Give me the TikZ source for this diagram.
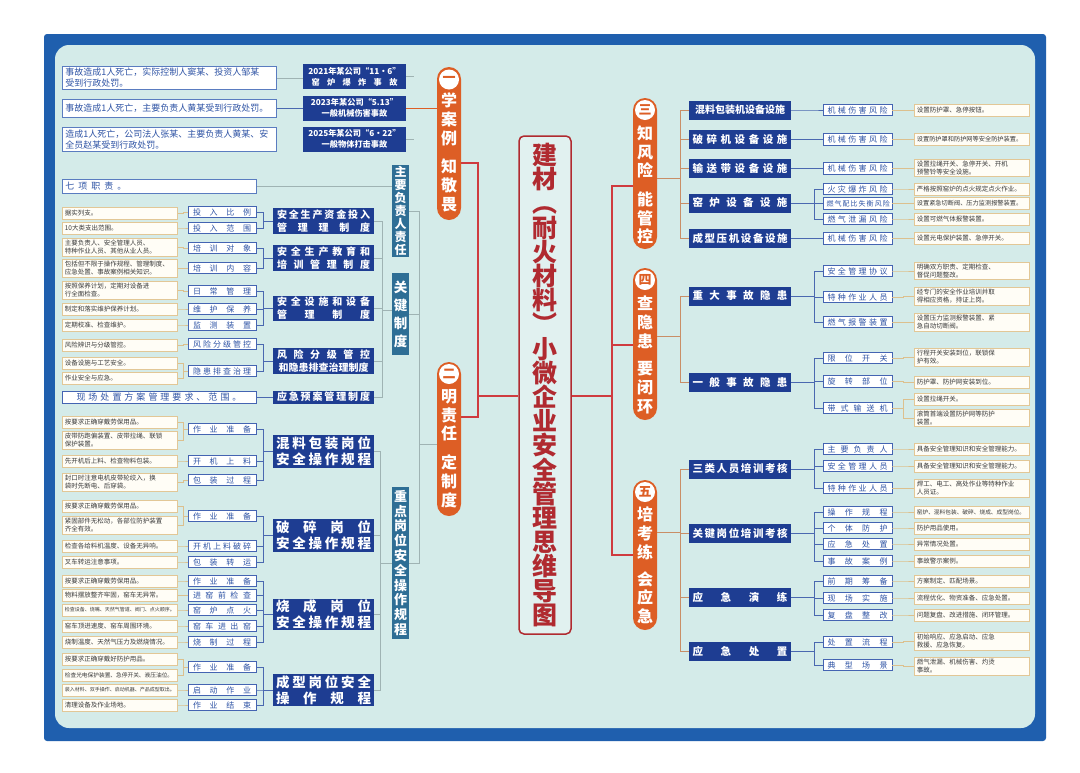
\documentclass[tikz,border=0pt]{standalone}
\usepackage{fontspec}
\setmainfont{Noto Sans CJK SC}
\newcommand{\jz}[2]{\makebox[#1pt][s]{#2}}
\definecolor{frameblue}{HTML}{1F5FAE}
\definecolor{panel}{HTML}{D4EBE9}
\definecolor{navy}{HTML}{1E3D92}
\definecolor{blueB}{HTML}{4464B2}
\definecolor{blueT}{HTML}{2F54A5}
\definecolor{caseB}{HTML}{5A7CC0}
\definecolor{tanB}{HTML}{E2C796}
\definecolor{grayT}{HTML}{3A3A3A}
\definecolor{orangeP}{HTML}{DD5E25}
\definecolor{tealL}{HTML}{2E6E95}
\definecolor{redT}{HTML}{B02A30}
\definecolor{redL}{HTML}{CF3B3F}
\definecolor{glineC}{HTML}{9FB3B3}
\definecolor{blineC}{HTML}{4A68B0}
\definecolor{tlineC}{HTML}{DCC08E}
\definecolor{plineC}{HTML}{C98E66}
\definecolor{cream}{HTML}{FFFDF6}
\begin{document}
\begin{tikzpicture}[x=1pt,y=-1pt,
  case/.style={draw=caseB, fill=white, line width=0.8pt, text=blueT, font=\fontsize{9}{11}\selectfont, align=left, anchor=west, text width=208pt, inner xsep=3pt, inner ysep=2pt},
  ttl/.style={fill=navy, text=white, font=\bfseries\fontsize{8.2}{11}\selectfont, minimum width=103pt, minimum height=25pt, align=center, inner sep=1pt},
  pill/.style={fill=orangeP, rounded corners=12pt, minimum width=24pt, inner sep=0pt},
  numc/.style={circle, fill=white, minimum size=20pt, inner sep=0pt, text=orangeP, font=\bfseries\fontsize{13}{13}\selectfont},
  pillt/.style={text=white, font=\bfseries\fontsize{16}{18.7}\selectfont, align=center, inner sep=0pt},
  lab/.style={fill=tealL, text=white, minimum width=17pt, align=center, inner sep=0pt},
  dk/.style={fill=navy, text=white, font=\bfseries\fontsize{10}{13}\selectfont, minimum width=101pt, align=center, inner sep=0pt},
  dkb/.style={dk, font=\bfseries\fontsize{13.5}{16}\selectfont, minimum height=33pt},
  dkr/.style={dk, font=\bfseries\fontsize{10.5}{13}\selectfont, minimum width=102pt, minimum height=19pt},
  lthree/.style={draw=blueB, fill=white, line width=0.7pt, text=blueT, font=\fontsize{8}{9}\selectfont, minimum width=68pt, minimum height=11.5pt, inner sep=0pt},
  lfour/.style={draw=tanB, fill=cream, line width=0.7pt, text=grayT, font=\fontsize{6.5}{8}\selectfont, align=left, text width=110pt, inner xsep=2.5pt, inner ysep=1.8pt, minimum height=12pt, anchor=west},
  gline/.style={draw=glineC, line width=0.7pt},
  bline/.style={draw=blineC, line width=0.8pt},
  tline/.style={draw=tlineC, line width=0.8pt},
  pline/.style={draw=plineC, line width=0.8pt},
  redline/.style={draw=redL, line width=1.3pt}
]
\useasboundingbox (0,0) rectangle (1080,772);
\fill[white] (0,0) rectangle (1080,772);
\fill[frameblue, rounded corners=3pt] (44,34) rectangle (1046,741);
\fill[panel, rounded corners=14pt] (55,45) rectangle (1035,728);

% ---------- center title ----------
\node[draw=redT, line width=1.5pt, fill=panel!70!white, rounded corners=5pt, minimum width=52pt, minimum height=498pt] (ct) at (545,385) {};
\node[text=redT, font=\bfseries\fontsize{25}{24.2}\selectfont, align=center, inner sep=0pt] (ctt) at (545,385) {建\\材\\︵\\耐\\火\\材\\料\\︶\\小\\微\\企\\业\\安\\全\\管\\理\\思\\维\\导\\图};

% ---------- pills ----------
\node[pill, minimum height=153pt] (p1) at (449,143.5) {};
\node[numc] (p1n) at (449,79.5) {一};
\node[pillt] (p1t) at (449,152.5) {学\\案\\例\\[10pt]知\\敬\\畏};
\node[pill, minimum height=154pt] (p2) at (449,439) {};
\node[numc] (p2n) at (449,374) {二};
\node[pillt] (p2t) at (449,448.5) {明\\责\\任\\[10pt]定\\制\\度};
\node[pill, minimum height=151pt] (p3) at (645,173.5) {};
\node[numc] (p3n) at (645,110) {三};
\node[pillt] (p3t) at (645,185) {知\\风\\险\\[10pt]能\\管\\控};
\node[pill, minimum height=152pt] (p4) at (645,344) {};
\node[numc] (p4n) at (645,280) {四};
\node[pillt] (p4t) at (645,355) {查\\隐\\患\\[9pt]要\\闭\\环};
\node[pill, minimum height=150pt] (p5) at (645,555) {};
\node[numc] (p5n) at (645,492) {五};
\node[pillt] (p5t) at (645,565.5) {培\\考\\练\\[8pt]会\\应\\急};

% red trunk
\coordinate (jl) at (478,396);
\coordinate (jr) at (612,396);
\draw[redline] (p1.east |- 0,163) -| (jl);
\draw[redline] (p2.east |- 0,417) -| (jl);
\draw[redline] (jl) -- (ct.west |- jl);
\draw[redline] (ct.east |- jr) -- (jr);
\draw[redline] (jr) |- (p3.west |- 0,186);
\draw[redline] (jr) |- (p4.west |- 0,345);
\draw[redline] (jr) |- (p5.west |- 0,555);

% ---------- cases ----------
\node[case] (c1) at (62,78) {事故造成1人死亡，实际控制人窦某、投资人邹某\\受到行政处罚。};
\node[case, minimum height=18pt] (c2) at (62,108) {事故造成1人死亡，主要负责人黄某受到行政处罚。};
\node[case] (c3) at (62,139.5) {造成1人死亡，公司法人张某、主要负责人黄某、安\\全员赵某受到行政处罚。};
\node[ttl] (t1) at (354.5,76.5) {2021年某公司“11·6”\\\jz{86}{窑 炉 爆 炸 事 故}};
\node[ttl] (t2) at (354.5,108) {2023年某公司“5.13”\\一般机械伤害事故};
\node[ttl] (t3) at (354.5,139) {2025年某公司“6·22”\\一般物体打击事故};
\draw[gline] (c1.east) -- (t1.west |- c1.east);
\draw[bline] (c2.east) -- (t2.west |- c2.east);
\draw[gline] (t1.east) -- ++(8,0);
\draw[pline, draw=orangeP] (t2.east) -- (p1.west |- t2.east);
\draw[gline] (t3.east) -- ++(8,0);

% ---------- left labels ----------
\node[lab, minimum height=92pt, font=\bfseries\fontsize{12}{13}\selectfont] (lab1) at (400.5,211) {主\\要\\负\\责\\人\\责\\任};
\node[lab, minimum height=82pt, font=\bfseries\fontsize{13.5}{18}\selectfont] (lab2) at (400.5,314) {关\\键\\制\\度};
\node[lab, minimum height=152pt, font=\bfseries\fontsize{13}{14.8}\selectfont] (lab3) at (400.5,563) {重\\点\\岗\\位\\安\\全\\操\\作\\规\\程};
\coordinate (ls) at (419,444);
\draw[gline] (p2.west |- ls) -- (ls);
\draw[gline] (ls) |- (lab1.east);
\draw[gline] (ls) |- (lab2.east);
\draw[gline] (ls) |- (lab3.east);

\node[case, text width=188pt, minimum height=14pt, inner ysep=1pt] (q7) at (62,186) {七\hspace{4pt}项\hspace{4pt}职\hspace{4pt}责\hspace{4pt}。};
\draw[gline] (q7.east) -- (lab1.west |- q7.east);

% ---------- key systems ----------
\node[dk, minimum height=26pt] (d1) at (323.5,221) {\jz{93}{安 全 生 产 资 金 投 入}\\\jz{93}{管 理 理 制 度}};
\node[dk, minimum height=26pt] (d2) at (323.5,258) {\jz{93}{安 全 生 产 教 育 和}\\\jz{93}{培 训 管 理 制 度}};
\node[dk, minimum height=25pt] (d3) at (323.5,308.5) {\jz{93}{安 全 设 施 和 设 备}\\\jz{93}{管 理 制 度}};
\node[dk, minimum height=26pt] (d4) at (323.5,361) {\jz{93}{风 险 分 级 管 控}\\和隐患排查治理制度};
\node[dk, minimum height=13pt] (d5) at (323.5,397) {\jz{93}{应 急 预 案 管 理 制 度}};
\coordinate (s2) at (382,310);
\draw[gline] (lab2.west |- s2) -- (s2);
\foreach \d in {d1,d2,d3,d4,d5} \draw[gline] (\d.east) -| (s2);

\node[lthree] (a1) at (222,212) {\jz{58}{投 入 比 例}};
\node[lthree] (a2) at (222,228) {\jz{58}{投 入 范 围}};
\node[lthree] (a3) at (222,248) {\jz{58}{培 训 对 象}};
\node[lthree] (a4) at (222,268) {\jz{58}{培 训 内 容}};
\node[lthree] (a5) at (222,291) {\jz{58}{日 常 管 理}};
\node[lthree] (a6) at (222,309) {\jz{58}{维 护 保 养}};
\node[lthree] (a7) at (222,325) {\jz{58}{监 测 装 置}};
\node[lthree] (a8) at (222,344) {\jz{58}{风 险 分 级 管 控}};
\node[lthree] (a9) at (222,371) {\jz{58}{隐 患 排 查 治 理}};
\node[lthree, minimum width=194pt, minimum height=12pt, font=\fontsize{9}{10}\selectfont] (a10) at (159,397) {现\hspace{3pt}场\hspace{3pt}处\hspace{3pt}置\hspace{3pt}方\hspace{3pt}案\hspace{3pt}管\hspace{3pt}理\hspace{3pt}要\hspace{3pt}求\hspace{3pt}、\hspace{3pt}范\hspace{3pt}围\hspace{3pt}。};
\draw[bline] (a10.east) -- (d5.west);

\node[lfour] (f1) at (62,213) {据实列支。};
\node[lfour] (f2) at (62,228) {10大类支出范围。};
\node[lfour] (f3) at (62,247.5) {主要负责人、安全管理人员、\\特种作业人员、其他从业人员。};
\node[lfour] (f4) at (62,268.5) {包括但不限于操作规程、管理制度、\\应急处置、事故案例相关知识。};
\node[lfour] (f5) at (62,290.5) {按照保养计划，定期对设备进\\行全面检查。};
\node[lfour] (f6) at (62,309) {制定和落实维护保养计划。};
\node[lfour] (f7) at (62,325) {定期校准、检查维护。};
\node[lfour] (f8) at (62,345) {风险辨识与分级管控。};
\node[lfour] (f9) at (62,363) {设备设施与工艺安全。};
\node[lfour] (f10) at (62,378) {作业安全与应急。};

% ---------- key posts ----------
\node[dkb] (e1) at (323.5,451) {\jz{95}{混 料 包 装 岗 位}\\\jz{95}{安 全 操 作 规 程}};
\node[dkb] (e2) at (323.5,535) {\jz{95}{破 碎 岗 位}\\\jz{95}{安 全 操 作 规 程}};
\node[dkb, minimum height=31pt] (e3) at (323.5,614.5) {\jz{95}{烧 成 岗 位}\\\jz{95}{安 全 操 作 规 程}};
\node[dkb, minimum height=32pt] (e4) at (323.5,690) {\jz{95}{成 型 岗 位 安 全}\\\jz{95}{操 作 规 程}};
\coordinate (s3) at (380,563);
\draw[gline] (lab3.west |- s3) -- (s3);
\foreach \e in {e1,e2,e3,e4} \draw[gline] (\e.east) -| (s3);

\node[lthree] (b1) at (222,429) {\jz{58}{作 业 准 备}};
\node[lthree] (b2) at (222,461) {\jz{58}{开 机 上 料}};
\node[lthree] (b3) at (222,480) {\jz{58}{包 装 过 程}};
\node[lthree] (b4) at (222,516) {\jz{58}{作 业 准 备}};
\node[lthree] (b5) at (222,546) {\jz{58}{开 机 上 料 破 碎}};
\node[lthree] (b6) at (222,562) {\jz{58}{包 装 转 运}};
\node[lthree] (b7) at (222,581) {\jz{58}{作 业 准 备}};
\node[lthree] (b8) at (222,595.5) {\jz{58}{进 窑 前 检 查}};
\node[lthree] (b9) at (222,610) {\jz{58}{窑 炉 点 火}};
\node[lthree] (b10) at (222,626) {\jz{58}{窑 车 进 出 窑}};
\node[lthree] (b11) at (222,642) {\jz{58}{烧 制 过 程}};
\node[lthree] (b12) at (222,667) {\jz{58}{作 业 准 备}};
\node[lthree] (b13) at (222,690) {\jz{58}{启 动 作 业}};
\node[lthree] (b14) at (222,705) {\jz{58}{作 业 结 束}};

\node[lfour] (g1) at (62,422) {按要求正确穿戴劳保用品。};
\node[lfour] (g2) at (62,440.5) {皮带防跑偏装置、皮带拉绳、联锁\\保护装置。};
\node[lfour] (g3) at (62,461) {先开机后上料、检查物料包装。};
\node[lfour] (g4) at (62,482.5) {封口时注意电机皮带轮绞入，换\\袋时先断电、后穿袋。};
\node[lfour] (g5) at (62,506) {按要求正确穿戴劳保用品。};
\node[lfour] (g6) at (62,525.5) {紧固部件无松动，各部位防护装置\\齐全有效。};
\node[lfour] (g7) at (62,546) {检查各给料机温度、设备无异响。};
\node[lfour] (g8) at (62,562) {叉车转运注意事项。};
\node[lfour] (g9) at (62,581) {按要求正确穿戴劳保用品。};
\node[lfour] (g10) at (62,595.5) {物料摆放整齐牢固，窑车无异常。};
\node[lfour, font=\fontsize{5}{6}\selectfont] (g11) at (62,610) {检查设备、烧嘴、天然气管道、阀门、点火顺序。};
\node[lfour] (g12) at (62,626) {窑车顶进速度、窑车周围环境。};
\node[lfour] (g13) at (62,642) {烧制温度、天然气压力及燃烧情况。};
\node[lfour] (g14) at (62,659) {按要求正确穿戴好防护用品。};
\node[lfour, font=\fontsize{5.7}{7}\selectfont] (g15) at (62,675) {检查光电保护装置、急停开关、液压油位。};
\node[lfour, font=\fontsize{5}{6}\selectfont] (g16) at (62,690) {装入材料、双手操作、启动机器、产品成型取出。};
\node[lfour] (g17) at (62,705) {清理设备及作业场地。};

\foreach \a/\d in {a1/d1,a2/d1,a3/d2,a4/d2,a5/d3,a6/d3,a7/d3,a8/d4,a9/d4,b1/e1,b2/e1,b3/e1,b4/e2,b5/e2,b6/e2,b7/e3,b8/e3,b9/e3,b10/e3,b11/e3,b12/e4,b13/e4,b14/e4}
  \draw[bline] (\a.east) -- ++(7,0) |- (\d.west);
\foreach \f/\a in {f1/a1,f2/a2,f3/a3,f4/a4,f5/a5,f6/a6,f7/a7,f8/a8,f9/a9,f10/a9,g1/b1,g2/b1,g3/b2,g4/b3,g5/b4,g6/b4,g7/b5,g8/b6,g9/b7,g10/b8,g11/b9,g12/b10,g13/b11,g14/b12,g15/b12,g16/b13,g17/b14}
  \draw[tline] (\f.east) -- ++(5.5,0) |- (\a.west);

% ---------- right side ----------
\node[dkr, font=\bfseries\fontsize{10}{13}\selectfont] (r1) at (740,110) {混料包装机设备设施};
\node[dkr] (r2) at (740,139.5) {\jz{95}{破 碎 机 设 备 设 施}};
\node[dkr] (r3) at (740,168.5) {\jz{95}{输 送 带 设 备 设 施}};
\node[dkr] (r4) at (740,203) {\jz{95}{窑 炉 设 备 设 施}};
\node[dkr] (r5) at (740,238.5) {\jz{95}{成 型 压 机 设 备 设 施}};
\node[dkr] (r6) at (740,296) {\jz{95}{重 大 事 故 隐 患}};
\node[dkr] (r7) at (740,382) {\jz{95}{一 般 事 故 隐 患}};
\node[dkr] (r8) at (740,469) {\jz{95}{三 类 人 员 培 训 考 核}};
\node[dkr] (r9) at (740,533) {\jz{95}{关 键 岗 位 培 训 考 核}};
\node[dkr] (r10) at (740,597.5) {\jz{95}{应 急 演 练}};
\node[dkr] (r11) at (740,651.5) {\jz{95}{应 急 处 置}};

\coordinate (k3) at (680,178.5);
\coordinate (k4) at (680,336);
\coordinate (k5) at (680,532);
\draw[pline] (p3.east |- k3) -- (k3);
\draw[pline] (p4.east |- k4) -- (k4);
\draw[pline] (p5.east |- k5) -- (k5);
\foreach \r in {r1,r2,r3,r4,r5} \draw[pline] (k3) |- (\r.west);
\foreach \r in {r6,r7} \draw[pline] (k4) |- (\r.west);
\foreach \r in {r8,r9,r10,r11} \draw[pline] (k5) |- (\r.west);

\node[lthree, minimum width=69pt] (u1) at (857.5,110) {\jz{60}{机 械 伤 害 风 险}};
\node[lthree, minimum width=69pt] (u2) at (857.5,139.5) {\jz{60}{机 械 伤 害 风 险}};
\node[lthree, minimum width=69pt] (u3) at (857.5,168.5) {\jz{60}{机 械 伤 害 风 险}};
\node[lthree, minimum width=69pt] (u4) at (857.5,189) {\jz{60}{火 灾 爆 炸 风 险}};
\node[lthree, minimum width=69pt, font=\fontsize{7}{8}\selectfont] (u5) at (857.5,203.5) {\jz{62}{燃 气 配 比 失 衡 风 险}};
\node[lthree, minimum width=69pt] (u6) at (857.5,219) {\jz{60}{燃 气 泄 漏 风 险}};
\node[lthree, minimum width=69pt] (u7) at (857.5,238.5) {\jz{60}{机 械 伤 害 风 险}};
\node[lthree, minimum width=69pt] (u8) at (857.5,271) {\jz{60}{安 全 管 理 协 议}};
\node[lthree, minimum width=69pt] (u9) at (857.5,297) {\jz{60}{特 种 作 业 人 员}};
\node[lthree, minimum width=69pt] (u10) at (857.5,322) {\jz{60}{燃 气 报 警 装 置}};
\node[lthree, minimum width=69pt] (u11) at (857.5,358) {\jz{60}{限 位 开 关}};
\node[lthree, minimum width=69pt] (u12) at (857.5,381.5) {\jz{60}{旋 转 部 位}};
\node[lthree, minimum width=69pt] (u13) at (857.5,408) {\jz{60}{带 式 输 送 机}};
\node[lthree, minimum width=69pt] (u14) at (857.5,449) {\jz{60}{主 要 负 责 人}};
\node[lthree, minimum width=69pt] (u15) at (857.5,466) {\jz{60}{安 全 管 理 人 员}};
\node[lthree, minimum width=69pt] (u16) at (857.5,488) {\jz{60}{特 种 作 业 人 员}};
\node[lthree, minimum width=69pt] (u17) at (857.5,512) {\jz{60}{操 作 规 程}};
\node[lthree, minimum width=69pt] (u18) at (857.5,528) {\jz{60}{个 体 防 护}};
\node[lthree, minimum width=69pt] (u19) at (857.5,544) {\jz{60}{应 急 处 置}};
\node[lthree, minimum width=69pt] (u20) at (857.5,561) {\jz{60}{事 故 案 例}};
\node[lthree, minimum width=69pt] (u21) at (857.5,581) {\jz{60}{前 期 筹 备}};
\node[lthree, minimum width=69pt] (u22) at (857.5,598) {\jz{60}{现 场 实 施}};
\node[lthree, minimum width=69pt] (u23) at (857.5,615) {\jz{60}{复 盘 整 改}};
\node[lthree, minimum width=69pt] (u24) at (857.5,642) {\jz{60}{处 置 流 程}};
\node[lthree, minimum width=69pt] (u25) at (857.5,665) {\jz{60}{典 型 场 景}};

\node[lfour] (v1) at (914,110.5) {设置防护罩、急停按钮。};
\node[lfour, font=\fontsize{6.2}{8}\selectfont] (v2) at (914,139.5) {设置防护罩和防护网等安全防护装置。};
\node[lfour] (v3) at (914,168) {设置拉绳开关、急停开关、开机\\预警铃等安全设施。};
\node[lfour] (v4) at (914,189) {严格按照窑炉的点火规定点火作业。};
\node[lfour, font=\fontsize{6.2}{8}\selectfont] (v5) at (914,203.5) {设置紧急切断阀、压力监测报警装置。};
\node[lfour] (v6) at (914,219) {设置可燃气体报警装置。};
\node[lfour] (v7) at (914,238.5) {设置光电保护装置、急停开关。};
\node[lfour] (v8) at (914,271) {明确双方职责、定期检查、\\督促问题整改。};
\node[lfour] (v9) at (914,296.5) {经专门的安全作业培训并取\\得相应资格，持证上岗。};
\node[lfour] (v10) at (914,322.5) {设置压力监测报警装置、紧\\急自动切断阀。};
\node[lfour] (v11) at (914,357.5) {行程开关安装到位，联锁保\\护有效。};
\node[lfour] (v12) at (914,382) {防护罩、防护网安装到位。};
\node[lfour] (v13) at (914,399.5) {设置拉绳开关。};
\node[lfour] (v14) at (914,418) {滚筒首端设置防护网等防护\\装置。};
\node[lfour] (v15) at (914,449) {具备安全管理知识和安全管理能力。};
\node[lfour] (v16) at (914,466) {具备安全管理知识和安全管理能力。};
\node[lfour] (v17) at (914,488.5) {焊工、电工、高处作业等特种作业\\人员证。};
\node[lfour, font=\fontsize{5.7}{7}\selectfont] (v18) at (914,512) {窑炉、混料包装、破碎、烧成、成型岗位。};
\node[lfour] (v19) at (914,528) {防护用品使用。};
\node[lfour] (v20) at (914,544) {异常情况处置。};
\node[lfour] (v21) at (914,561) {事故警示案例。};
\node[lfour] (v22) at (914,581) {方案制定、匹配场景。};
\node[lfour] (v23) at (914,598) {流程优化、物资准备、应急处置。};
\node[lfour] (v24) at (914,615) {问题复盘、改进措施、闭环管理。};
\node[lfour] (v25) at (914,641.5) {初始响应、应急启动、应急\\救援、应急恢复。};
\node[lfour] (v26) at (914,666.5) {燃气泄漏、机械伤害、灼烫\\事故。};

\foreach \r/\u in {r1/u1,r2/u2,r3/u3,r4/u4,r4/u5,r4/u6,r5/u7,r6/u8,r6/u9,r6/u10,r7/u11,r7/u12,r7/u13,r8/u14,r8/u15,r8/u16,r9/u17,r9/u18,r9/u19,r9/u20,r10/u21,r10/u22,r10/u23,r11/u24,r11/u25}
  \draw[bline] (\r.east) -- ++(23,0) |- (\u.west);
\foreach \u/\v in {u1/v1,u2/v2,u3/v3,u4/v4,u5/v5,u6/v6,u7/v7,u8/v8,u9/v9,u10/v10,u11/v11,u12/v12,u13/v13,u13/v14,u14/v15,u15/v16,u16/v17,u17/v18,u18/v19,u19/v20,u20/v21,u21/v22,u22/v23,u23/v24,u24/v25,u25/v26}
  \draw[tline] (\u.east) -- ++(11,0) |- (\v.west);
\end{tikzpicture}
\end{document}
